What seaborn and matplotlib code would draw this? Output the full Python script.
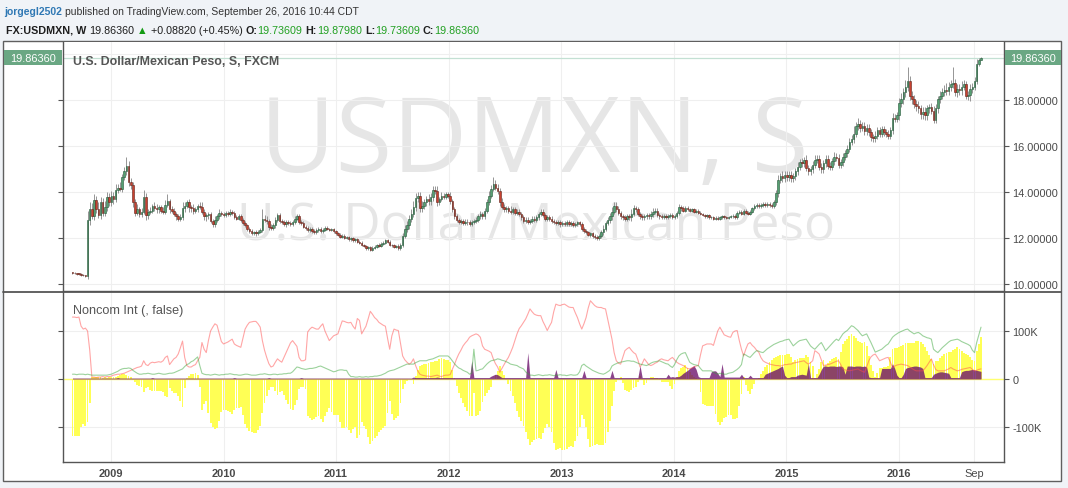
import datetime as dt
import numpy as np
import pandas as pd
import matplotlib
matplotlib.use("Agg")
import matplotlib.pyplot as plt
import matplotlib.dates as mdates
from matplotlib import font_manager
from matplotlib.patches import Rectangle
from matplotlib.lines import Line2D
import seaborn as sns

# ---------------- data (weekly) ----------------
start_week = "2008-08-29"
first_open = 10.50

close = [
    # 2008
    10.48, 10.46, 10.44, 10.43, 10.40, 10.38, 10.36, 12.78, 13.28, 12.98, 13.65, 13.25, 13.02, 13.55, 13.10, 13.35, 13.80, 13.55,
    # 2009
    13.85, 13.70, 14.10, 14.20, 14.15, 14.65, 14.90, 15.15, 14.45, 14.30,
    13.55, 13.10, 13.25, 13.05, 13.15, 13.80, 13.00, 13.15, 13.20, 13.40,
    13.30, 13.25, 13.35, 13.20, 13.15, 13.45, 13.60, 13.25, 13.20, 13.05,
    12.95, 12.85, 12.90, 13.30, 13.40, 13.55, 13.35, 13.30, 13.20, 13.25,
    13.40, 13.35, 13.15, 12.95, 13.00, 13.05, 12.75, 12.60, 12.80, 12.95,
    13.10, 13.05,
    # 2010
    13.00, 13.10, 13.05, 13.15, 13.10, 12.90, 12.85, 12.95, 12.80, 12.65,
    12.55, 12.40, 12.30, 12.22, 12.25, 12.20, 12.28, 12.35, 12.85, 12.80,
    12.75, 12.50, 12.45, 12.55, 12.80, 13.00, 12.75, 12.70, 12.60, 12.70,
    12.65, 12.60, 12.70, 12.85, 12.95, 12.70, 12.65, 12.50, 12.45, 12.35,
    12.40, 12.30, 12.25, 12.35, 12.40, 12.30, 12.35, 12.45, 12.40, 12.35,
    12.40, 12.30,
    # 2011
    12.20, 12.15, 12.05, 12.10, 12.00, 12.05, 11.95, 12.00, 11.90, 11.95,
    11.85, 11.80, 11.70, 11.65, 11.55, 11.60, 11.50, 11.58, 11.62, 11.70,
    11.65, 11.75, 11.80, 11.90, 11.85, 11.70, 11.68, 11.62, 11.65, 11.58,
    11.70, 12.10, 12.40, 12.55, 12.85, 13.05, 13.35, 13.75, 13.85, 13.30,
    13.40, 13.55, 13.70, 13.60, 13.80, 14.10, 14.05, 13.55, 13.70, 13.85,
    13.80, 13.90,
    # 2012
    13.85, 13.60, 13.25, 12.95, 12.78, 12.70, 12.75, 12.65, 12.72, 12.68,
    12.62, 12.70, 12.75, 12.80, 12.95, 13.05, 12.95, 13.20, 13.55, 13.85,
    14.15, 14.35, 14.20, 14.05, 13.55, 13.35, 13.25, 13.30, 13.20, 13.15,
    13.25, 13.10, 13.15, 13.05, 12.90, 12.75, 12.80, 12.70, 12.75, 12.85,
    12.80, 12.90, 13.05, 13.15, 13.00, 12.85, 12.90, 12.85, 12.75, 12.70,
    12.65, 12.70, 12.60,
    # 2013
    12.65, 12.62, 12.70, 12.60, 12.65, 12.55, 12.60, 12.68, 12.60, 12.40,
    12.30, 12.25, 12.15, 12.20, 12.10, 12.05, 12.00, 12.10, 12.25, 12.40,
    12.65, 12.80, 12.95, 13.15, 13.40, 13.25, 13.10, 12.95, 12.90, 12.85,
    12.95, 12.90, 13.05, 13.30, 13.25, 13.05, 12.95, 12.90, 12.95, 13.00,
    12.95, 13.05, 13.15, 13.20, 13.00, 12.95, 12.92, 12.98, 12.90, 12.95,
    13.00, 12.92,
    # 2014
    12.95, 13.10, 13.35, 13.30, 13.20, 13.30, 13.25, 13.20, 13.25, 13.15,
    13.20, 13.10, 13.05, 13.00, 12.95, 13.00, 12.90, 12.92, 12.85, 12.88,
    12.85, 12.90, 12.95, 12.90, 12.88, 12.92, 12.95, 12.98, 12.90, 13.10,
    13.15, 13.05, 13.20, 13.10, 13.05, 13.15, 13.30, 13.40, 13.45, 13.40,
    13.45, 13.50, 13.45, 13.50, 13.45, 13.40, 13.55, 13.95, 14.55, 14.70,
    14.60, 14.75,
    # 2015
    14.65, 14.75, 14.60, 14.70, 14.90, 15.10, 15.30, 15.25, 15.40, 15.05,
    14.90, 15.00, 15.20, 15.40, 15.45, 15.10, 15.00, 15.25, 15.45, 15.15,
    15.10, 15.35, 15.55, 15.50, 15.20, 15.30, 15.55, 15.70, 15.90, 16.20,
    16.30, 16.55, 16.90, 16.95, 16.80, 16.90, 16.65, 16.80, 16.60, 16.40,
    16.35, 16.45, 16.70, 16.55, 16.75, 16.60, 16.55, 16.45, 16.70, 17.25,
    17.20, 17.35,
    # 2016
    17.90, 18.05, 18.35, 18.60, 18.85, 18.20, 18.05, 17.85, 17.75, 17.65,
    17.40, 17.50, 17.35, 17.65, 17.70, 17.55, 17.15, 17.65, 18.05, 18.20,
    18.35, 18.45, 18.40, 18.60, 18.70, 18.75, 18.35, 18.50, 18.45, 18.60,
    18.70, 18.20, 18.25, 18.50, 18.60, 18.85, 19.60, 19.74, 19.8636,
]

# wick extensions above / below the body, in hundredths
hi_ext = [
    3, 3, 3, 2, 3, 3, 3, 40, 30, 25, 25, 20, 30, 25, 20, 25, 20, 15,
    20, 15, 25, 15, 25, 15, 20, 38, 20, 15, 15, 15, 25, 10, 15, 30, 15, 10, 15, 10,
    15, 20, 10, 10, 15, 20, 30, 10, 15, 10, 10, 10, 15, 25, 15, 10, 15, 10, 20, 10,
    10, 15, 20, 10, 10, 10, 10, 10, 15, 10, 15, 10,
    10, 10, 8, 10, 8, 8, 10, 8, 8, 8, 8, 8, 8, 8, 8, 10, 8, 8, 40, 15,
    15, 10, 10, 10, 10, 8, 10, 8, 8, 8, 8, 8, 10, 10, 8, 8, 8, 8, 8, 8,
    8, 8, 8, 8, 8, 8, 8, 6, 8, 6, 6, 6,
    6, 6, 6, 6, 6, 6, 6, 6, 6, 6, 6, 6, 6, 6, 6, 6, 6, 6, 6, 6,
    8, 6, 6, 6, 6, 6, 6, 6, 6, 8, 8, 10, 15, 20, 15, 20, 25, 20, 15, 15,
    20, 15, 15, 20, 15, 15, 15, 20, 10, 15, 10, 10,
    10, 15, 10, 10, 10, 10, 10, 10, 10, 10, 10, 10, 10, 10, 10, 12, 10, 10, 15, 20,
    15, 33, 20, 15, 15, 20, 12, 10, 10, 20, 10, 10, 10, 10, 10, 10, 10, 10, 10, 10,
    10, 10, 10, 10, 10, 10, 10, 10, 10, 10, 10, 10, 10,
    8, 8, 8, 8, 8, 8, 8, 8, 8, 8, 8, 8, 8, 8, 8, 8, 8, 8, 10, 15,
    10, 10, 15, 20, 15, 15, 15, 10, 10, 10, 10, 10, 20, 15, 10, 10, 10, 10, 10, 10,
    10, 15, 15, 10, 10, 10, 8, 8, 8, 8, 8, 8,
    8, 10, 15, 10, 8, 8, 8, 8, 8, 8, 8, 8, 6, 6, 6, 6, 6, 6, 6, 6,
    6, 6, 6, 6, 6, 6, 6, 6, 6, 6, 6, 6, 6, 6, 6, 6, 6, 8, 8, 8,
    8, 8, 8, 8, 8, 8, 10, 15, 20, 15, 20, 15,
    15, 15, 15, 15, 15, 20, 15, 20, 15, 20, 15, 15, 15, 20, 15, 15, 15, 15, 15, 15,
    15, 15, 20, 15, 15, 15, 15, 15, 15, 15, 20, 35, 15, 30, 20, 15, 15, 15, 15, 15,
    15, 20, 15, 15, 15, 15, 15, 15, 15, 20, 15, 15,
    20, 25, 20, 30, 60, 20, 20, 20, 15, 20, 15, 20, 20, 15, 15, 20, 20, 20, 15, 20,
    20, 20, 30, 20, 20, 70, 20, 20, 20, 25, 20, 15, 15, 20, 15, 15, 20, 10, 2,
]
lo_ext = [
    3, 3, 3, 3, 3, 3, 5, 15, 20, 15, 20, 15, 15, 20, 15, 15, 15, 15,
    15, 20, 15, 15, 10, 15, 10, 15, 20, 15, 20, 15, 10, 15, 15, 10, 20, 15, 10, 10,
    10, 15, 15, 10, 10, 10, 10, 15, 10, 10, 15, 10, 10, 10, 15, 10, 20, 15, 15, 10,
    10, 10, 10, 15, 20, 15, 10, 10, 10, 10, 10, 10,
    8, 8, 8, 10, 8, 8, 8, 8, 8, 8, 8, 8, 8, 8, 8, 10, 8, 8, 8, 10,
    15, 15, 10, 10, 10, 8, 10, 8, 8, 10, 8, 8, 8, 8, 8, 8, 8, 8, 8, 8,
    8, 8, 8, 8, 8, 8, 8, 6, 6, 6, 6, 6,
    6, 6, 6, 6, 6, 6, 6, 6, 6, 6, 6, 6, 6, 6, 6, 6, 6, 6, 6, 6,
    6, 6, 6, 6, 6, 6, 6, 6, 6, 8, 8, 10, 10, 15, 15, 15, 15, 15, 20, 15,
    15, 15, 15, 15, 15, 20, 15, 15, 10, 10, 10, 10,
    10, 10, 10, 10, 10, 10, 10, 10, 10, 10, 10, 10, 10, 10, 10, 10, 10, 10, 10, 10,
    10, 10, 10, 15, 15, 10, 10, 10, 10, 10, 10, 10, 10, 10, 10, 10, 10, 10, 10, 10,
    10, 10, 10, 10, 10, 10, 10, 10, 10, 10, 10, 10, 10,
    8, 8, 8, 8, 8, 8, 8, 8, 8, 8, 8, 8, 8, 10, 10, 10, 10, 8, 8, 10,
    10, 10, 15, 15, 10, 10, 10, 10, 10, 10, 10, 10, 15, 10, 10, 10, 10, 10, 10, 10,
    10, 10, 15, 10, 10, 10, 8, 8, 8, 8, 8, 8,
    8, 8, 8, 10, 8, 8, 8, 8, 6, 6, 6, 6, 6, 6, 6, 6, 6, 6, 6, 6,
    6, 6, 6, 6, 6, 6, 6, 6, 6, 6, 6, 6, 6, 6, 6, 6, 6, 8, 8, 8,
    8, 8, 8, 8, 8, 8, 8, 10, 15, 15, 15, 15,
    15, 15, 15, 15, 15, 15, 15, 15, 15, 15, 15, 15, 15, 15, 15, 15, 15, 15, 15, 15,
    15, 15, 15, 15, 15, 15, 15, 15, 15, 15, 15, 15, 15, 20, 20, 15, 15, 15, 15, 15,
    15, 15, 15, 15, 15, 15, 15, 15, 15, 15, 15, 15,
    20, 20, 20, 20, 20, 20, 20, 20, 20, 20, 20, 20, 20, 20, 20, 15, 15, 15, 20, 15,
    15, 15, 15, 15, 20, 15, 15, 20, 20, 20, 15, 15, 20, 30, 20, 15, 15, 10, 0,
]

# Non-commercial long (green line), short (red line) and spreading (purple area), thousands
long_k = [
    10, 10, 9, 10, 10, 10, 9, 10, 9, 8, 8, 8, 8, 8, 8, 8, 8, 9,
    10, 12, 14, 16, 19, 21, 22, 22, 23, 22, 18, 15, 12, 10, 10, 11, 11, 12, 11, 10,
    10, 11, 12, 11, 10, 10, 11, 12, 12, 13, 15, 17, 19, 21, 26, 30, 32, 36, 38, 42,
    46, 28, 12, 10, 9, 9, 8, 9, 10, 9, 8, 9,
    9, 10, 10, 11, 10, 9, 9, 8, 8, 9, 10, 10, 9, 8, 8, 8, 9, 10, 10, 11,
    10, 9, 9, 10, 10, 9, 10, 10, 11, 11, 12, 12, 15, 20, 25, 24, 22, 21, 20, 21,
    22, 22, 23, 24, 26, 27, 25, 23, 21, 19, 17, 15,
    16, 18, 19, 19, 18, 18, 10, 5, 5, 4, 4, 5, 4, 4, 5, 4, 5, 5, 6, 6,
    7, 8, 10, 12, 15, 17, 18, 19, 21, 23, 25, 27, 29, 31, 31, 31, 31, 34, 36, 38,
    38, 38, 38, 40, 41, 42, 44, 46, 48, 48, 48, 48,
    48, 44, 38, 32, 27, 23, 21, 18, 16, 14, 10, 12, 62, 17, 18, 20, 21, 26, 31, 35,
    38, 39, 40, 42, 41, 39, 38, 36, 34, 31, 30, 29, 28, 25, 23, 21, 15, 11, 8, 8,
    7, 8, 9, 8, 7, 8, 8, 9, 8, 7, 8, 8, 9,
    8, 8, 7, 8, 9, 8, 8, 9, 15, 28, 31, 27, 24, 21, 18, 16, 14, 12, 11, 10,
    12, 15, 18, 27, 30, 32, 34, 35, 36, 37, 38, 38, 37, 37, 35, 33, 31, 30, 29, 28,
    30, 33, 35, 36, 37, 38, 36, 34, 32, 31, 27, 24,
    30, 40, 48, 52, 54, 55, 45, 35, 32, 30, 29, 28, 22, 17, 17, 17, 17, 17, 14, 12,
    10, 12, 11, 10, 10, 12, 13, 14, 17, 20, 24, 30, 52, 50, 47, 45, 50, 55, 59, 58,
    56, 55, 59, 63, 66, 69, 72, 74, 76, 78, 79, 81,
    82, 83, 76, 69, 73, 77, 80, 81, 82, 83, 76, 69, 65, 62, 67, 72, 76, 68, 59, 64,
    69, 74, 79, 83, 80, 87, 94, 98, 101, 106, 111, 109, 105, 101, 95, 90, 92, 94, 85, 76,
    66, 56, 58, 60, 62, 66, 70, 73, 80, 87, 91, 94,
    97, 99, 101, 103, 104, 100, 97, 94, 96, 97, 94, 90, 88, 86, 85, 83, 62, 58, 55, 60,
    65, 69, 73, 77, 80, 81, 82, 83, 81, 78, 76, 74, 72, 69, 60, 55, 76, 92, 108,
]
short_k = [
    129, 129, 128, 129, 110, 104, 106, 100, 60, 4, 4, 3, 4, 4, 5, 4, 5, 5,
    6, 8, 9, 10, 10, 11, 12, 14, 16, 18, 20, 22, 24, 25, 27, 38, 30, 28, 33, 35,
    34, 35, 36, 35, 38, 45, 48, 30, 36, 42, 45, 52, 65, 79, 45, 28, 25, 25, 28, 30,
    38, 45, 76, 62, 55, 80, 100, 108, 115, 112, 95, 78,
    73, 75, 77, 80, 83, 73, 70, 68, 66, 85, 104, 112, 118, 119, 120, 120, 115, 108, 80, 60,
    45, 32, 25, 27, 35, 42, 38, 35, 45, 55, 65, 75, 80, 74, 68, 45, 38, 38, 40, 98,
    104, 108, 106, 104, 104, 110, 115, 100, 90, 80, 85, 90,
    92, 94, 108, 121, 120, 118, 117, 118, 110, 104, 126, 122, 94, 102, 110, 125, 141, 135, 128, 124,
    118, 115, 112, 110, 85, 62, 90, 104, 102, 101, 75, 48, 40, 35, 31, 34, 42, 28, 17, 10,
    8, 7, 6, 6, 5, 6, 7, 8, 6, 5, 7, 8,
    8, 9, 20, 30, 42, 52, 60, 69, 75, 80, 87, 90, 92, 94, 92, 87, 69, 62, 60, 58,
    55, 42, 32, 25, 14, 22, 30, 38, 45, 55, 66, 80, 94, 105, 111, 118, 125, 135, 146, 140,
    135, 133, 132, 132, 120, 111, 101, 110, 118, 140, 156, 154, 153,
    155, 156, 153, 150, 149, 149, 138, 128, 115, 104, 115, 128, 148, 163, 158, 153, 150, 149, 149, 147,
    146, 125, 105, 83, 55, 38, 33, 31, 45, 59, 63, 66, 60, 55, 52, 40, 25, 32, 42, 36,
    30, 28, 30, 33, 35, 40, 42, 40, 39, 38, 42, 45,
    40, 35, 32, 30, 28, 25, 22, 21, 23, 25, 27, 28, 50, 69, 71, 73, 73, 73, 70, 85,
    100, 108, 100, 92, 90, 88, 87, 97, 100, 101, 80, 62, 48, 62, 73, 76, 70, 66, 60, 56,
    45, 38, 35, 33, 31, 30, 29, 28, 28, 27, 28, 30,
    30, 31, 31, 33, 34, 35, 36, 37, 38, 34, 31, 34, 38, 59, 56, 52, 40, 28, 29, 30,
    31, 33, 35, 37, 38, 30, 21, 19, 18, 17, 18, 19, 20, 21, 18, 16, 14, 25, 38, 46,
    50, 52, 45, 38, 40, 42, 44, 45, 35, 24, 27, 29,
    30, 31, 30, 29, 28, 25, 22, 19, 17, 17, 17, 17, 22, 28, 35, 42, 30, 20, 17, 17,
    17, 17, 19, 21, 24, 21, 19, 17, 18, 20, 21, 22, 23, 24, 20, 17, 18, 20, 21,
]
spread_k = [
    2, 2, 2, 2, 2, 2, 2, 2, 2, 2, 2, 2, 2, 2, 2, 2, 2, 2,
    2, 2, 2, 3, 2, 2, 2, 2, 2, 2, 2, 2, 2, 2, 2, 2, 2, 2, 2, 3,
    2, 2, 2, 2, 2, 2, 2, 2, 2, 2, 2, 2, 2, 2, 2, 2, 2, 2, 2, 2,
    2, 2, 2, 2, 2, 2, 2, 2, 2, 2, 2, 2,
    2, 2, 2, 2, 2, 3, 2, 2, 2, 2, 2, 2, 2, 2, 2, 2, 2, 2, 2, 2,
    2, 3, 2, 2, 2, 2, 2, 2, 2, 2, 2, 2, 2, 2, 2, 2, 3, 2, 2, 2,
    2, 2, 2, 2, 2, 2, 2, 2, 2, 2, 2, 2,
    2, 2, 2, 2, 2, 2, 2, 2, 2, 2, 2, 2, 2, 2, 2, 2, 2, 2, 2, 2,
    2, 2, 2, 2, 2, 2, 2, 2, 2, 2, 2, 2, 2, 2, 2, 2, 4, 3, 3, 3,
    3, 3, 3, 3, 3, 3, 3, 4, 3, 3, 3, 3,
    3, 3, 3, 3, 3, 3, 3, 3, 3, 3, 3, 38, 3, 3, 3, 3, 3, 3, 3, 3,
    6, 8, 10, 9, 6, 3, 3, 3, 3, 3, 3, 3, 3, 3, 3, 3, 3, 55, 3, 3,
    3, 3, 3, 3, 3, 3, 3, 3, 3, 3, 20, 3, 3,
    3, 3, 3, 3, 3, 3, 3, 3, 3, 3, 18, 3, 3, 3, 3, 3, 3, 3, 3, 3,
    3, 3, 3, 18, 3, 3, 3, 3, 3, 3, 3, 3, 3, 3, 3, 3, 28, 3, 3, 3,
    3, 3, 3, 3, 3, 3, 3, 3, 3, 10, 4, 5,
    4, 5, 5, 8, 12, 15, 18, 22, 25, 28, 20, 5, 3, 3, 3, 3, 3, 15, 17, 17,
    12, 5, 32, 4, 4, 4, 4, 4, 4, 4, 4, 10, 3, 3, 3, 8, 3, 3, 3, 3,
    3, 3, 10, 12, 14, 16, 18, 20, 22, 25, 27, 8,
    3, 3, 5, 5, 5, 8, 9, 10, 9, 8, 32, 3, 3, 3, 3, 10, 20, 27, 27, 26,
    27, 27, 27, 26, 27, 27, 25, 10, 27, 27, 27, 26, 27, 27, 27, 26, 27, 25, 4, 3,
    3, 3, 3, 3, 22, 22, 22, 22, 22, 32, 22, 8,
    3, 3, 10, 22, 24, 25, 26, 27, 27, 26, 25, 22, 3, 3, 3, 3, 10, 12, 14, 15,
    15, 14, 13, 12, 3, 3, 3, 3, 3, 15, 17, 18, 18, 19, 20, 19, 18, 17, 16,
]

price_ticks = [10, 12, 14, 16, 18]
price_tick_labels = ["10.00000", "12.00000", "14.00000", "16.00000", "18.00000"]
cot_ticks = [-100, 0, 100]
cot_tick_labels = ["-100K", "0", "100K"]
x_tick_dates = ["2009-01-01", "2010-01-01", "2011-01-01", "2012-01-01", "2013-01-01",
                "2014-01-01", "2015-01-01", "2016-01-01", "2016-09-01"]
x_tick_labels = ["2009", "2010", "2011", "2012", "2013", "2014", "2015", "2016", "Sep"]
last_price_label = "19.86360"

n = len(close)
assert all(len(a) == n for a in (hi_ext, lo_ext, long_k, short_k, spread_k)), \
    [len(a) for a in (close, hi_ext, lo_ext, long_k, short_k, spread_k)]

# ---------------- figure ----------------
sns.set_style("white")
SANS = ["Liberation Sans", "DejaVu Sans"]
WMFONT = ["Open Sans", "DejaVu Sans"]
try:
    font_manager.findfont(font_manager.FontProperties(family="Liberation Sans Narrow"),
                          fallback_to_default=False)
    HEADFONT = ["Liberation Sans Narrow", "DejaVu Sans"]
except Exception:
    HEADFONT = SANS
plt.rcParams["font.family"] = SANS

W, H = 1068, 489
fig = plt.figure(figsize=(W / 100, H / 100), dpi=100)
fig.patch.set_facecolor("#f0f3f7")


def fx(x):
    return x / W


def fy(y):
    return 1 - y / H


fig.add_artist(Rectangle((fx(3), fy(482)), fx(1061) - fx(3), fy(42) - fy(482),
                         transform=fig.transFigure, facecolor="white",
                         edgecolor="#5f5f5f", lw=1.0, zorder=-5))

ax1 = fig.add_axes([fx(63), fy(292), fx(1004) - fx(63), fy(43) - fy(292)])
ax2 = fig.add_axes([fx(63), fy(463), fx(1004) - fx(63), fy(293) - fy(463)])

d09 = mdates.date2num(dt.datetime(2009, 1, 1))
d16 = mdates.date2num(dt.datetime(2016, 1, 1))
dpp = (d16 - d09) / (899 - 111)
xlim = (d09 - (111 - 63) * dpp, d09 + (1004 - 111) * dpp)

weeks = pd.date_range(start_week, periods=n, freq="7D")
xd = mdates.date2num(weeks.to_pydatetime())

# ---- price candles ----
c = np.array(close)
o = np.r_[first_open, c[:-1]]
hi = np.maximum(o, c) + np.array(hi_ext) / 100.0
lo = np.minimum(o, c) - np.array(lo_ext) / 100.0
up = c >= o
ax1.vlines(xd, lo, hi, colors="#858585", lw=0.6, zorder=2)
bh = np.maximum(np.abs(c - o), 0.03)
bb = np.minimum(o, c)
ax1.bar(xd[up], bh[up], bottom=bb[up], width=5.0, color="#55a072",
        edgecolor="#245638", lw=0.4, zorder=3)
ax1.bar(xd[~up], bh[~up], bottom=bb[~up], width=5.0, color="#c9412f",
        edgecolor="#5e2119", lw=0.4, zorder=3)
ax1.axhline(c[-1], color="#c3e0d3", lw=0.9, zorder=1.5)
ax1.axhline(20, color="#efefef", lw=0.8, zorder=0.2)
ax1.set_ylim(10 - (292 - 285) / 22.96, 10 + (285 - 43) / 22.96)
ax1.set_yticks(price_ticks)
ax1.set_yticklabels(price_tick_labels)

# ---- COT panel ----
L = np.array(long_k, dtype=float)
S = np.array(short_k, dtype=float)
net = L - S
sp = np.array(spread_k, dtype=float)
ax2.axhline(0, color="#ffff70", lw=1.0, zorder=1)
ax2.bar(xd, net, width=6.0, color="#ffff55", lw=0, zorder=2, antialiased=False)
ax2.fill_between(xd, 0, sp, color="#6b0f6b", alpha=0.78, lw=0, zorder=3)
sns.lineplot(x=xd, y=S, ax=ax2, color="#ff4d4d", lw=0.8, alpha=0.5, zorder=4)
sns.lineplot(x=xd, y=L, ax=ax2, color="#3aa63a", lw=0.8, alpha=0.5, zorder=4)
ax2.set_ylim(-(463 - 380) / 0.48, (380 - 293) / 0.48)
ax2.set_yticks(cot_ticks)
ax2.set_yticklabels(cot_tick_labels)

xt = [mdates.date2num(dt.datetime.strptime(s, "%Y-%m-%d")) for s in x_tick_dates]
for ax in (ax1, ax2):
    ax.set_xlim(*xlim)
    ax.set_facecolor("white")
    ax.set_xlabel("")
    ax.set_ylabel("")
    ax.grid(True, color="#efefef", lw=0.8)
    ax.set_axisbelow(True)
    for s in ax.spines.values():
        s.set_color("#555555")
        s.set_linewidth(1.0)
    ax.spines["top"].set_visible(False)
    ax.set_xticks(xt)
    ax.tick_params(axis="x", length=0, pad=4)
    ax.tick_params(axis="y", left=True, right=True, labelleft=False, labelright=True,
                   length=3.5, width=0.8, color="#555555", labelsize=7.9,
                   labelcolor="#4a4a4a", pad=2.5)

ax1.tick_params(axis="x", labelbottom=False)
ax2.set_xticklabels(x_tick_labels)
for lab in ax2.get_xticklabels():
    lab.set_fontsize(7.9)
    lab.set_color("#4a4a4a")
    lab.set_fontweight("normal" if lab.get_text() == "Sep" else "bold")

fig.add_artist(Line2D([fx(3), fx(1061)], [fy(292.5), fy(292.5)], transform=fig.transFigure,
                      color="#555555", lw=1.3, zorder=5))

# ---- last price boxes ----
yp = H - ax1.transData.transform((xd[-1], c[-1]))[1]
for x0, x1 in ((4, 62), (1005, 1061)):
    fig.add_artist(Rectangle((fx(x0), fy(yp + 7.5)), fx(x1) - fx(x0), 15 / H,
                             transform=fig.transFigure, facecolor="#6aa783",
                             edgecolor="none", zorder=6))
    fig.text(fx((x0 + x1) / 2), fy(yp), last_price_label, color="white",
             fontsize=7.9, ha="center", va="center", zorder=7)

# ---- text helpers ----
renderer = fig.canvas.get_renderer()


def tw(s, fs, weight, family):
    t = fig.text(0, 0, s, fontsize=fs, fontweight=weight, family=family)
    w = t.get_window_extent(renderer).width
    t.remove()
    return w


def text_line(parts, x0, x1, ybase, family=SANS, fs0=10.0, target=None, zorder=3):
    def total(fs):
        x = 0.0
        for s, col, wt, spc in parts:
            if spc:
                x += tw("a a", fs, wt, family) - tw("aa", fs, wt, family)
            x += tw(s, fs, wt, family)
        return x

    fs = fs0 * (x1 - x0) / total(fs0)
    x = x0
    for s, col, wt, spc in parts:
        if spc:
            x += tw("a a", fs, wt, family) - tw("aa", fs, wt, family)
        (target or fig).text(fx(x), fy(ybase), s, fontsize=fs, fontweight=wt, color=col,
                             family=family, ha="left", va="baseline",
                             transform=fig.transFigure, zorder=zorder)
        x += tw(s, fs, wt, family)


GREEN = "#22a022"
text_line([("jorgegl2502", "#2f78b4", "bold", False),
           ("published on TradingView.com, September 26, 2016 10:44 CDT", "#333333", "normal", True)],
          4, 358, 15, family=HEADFONT)
text_line([("FX:USDMXN, W", "#1e1e1e", "bold", False),
           ("19.86360", "#1e1e1e", "normal", True),
           ("\u25B2", "#139a13", "normal", True),
           ("+0.08820 (+0.45%)", "#1e1e1e", "normal", True),
           ("O:", "#1e1e1e", "bold", True), ("19.73609", GREEN, "normal", False),
           ("H:", "#1e1e1e", "bold", True), ("19.87980", GREEN, "normal", False),
           ("L:", "#1e1e1e", "bold", True), ("19.73609", GREEN, "normal", False),
           ("C:", "#1e1e1e", "bold", True), ("19.86360", GREEN, "normal", False)],
          6, 476, 33.5, family=HEADFONT)
text_line([("U.S. Dollar/Mexican Peso, S, FXCM", "#555555", "bold", False)], 73, 279, 65,
          target=ax1, zorder=8)
text_line([("Noncom Int (, false)", "#555555", "normal", False)], 73, 184, 314,
          target=ax2, zorder=8)

# watermarks (behind candles)
text_line([("USDMXN, S", "#e6e6e6", "normal", False)], 260, 810, 172, family=WMFONT,
          target=ax1, zorder=0.5)
text_line([("U.S. Dollar/Mexican Peso", "#e6e6e6", "normal", False)], 237, 835, 240,
          family=WMFONT, target=ax1, zorder=0.5)

fig.savefig("out.png", dpi=100, facecolor=fig.get_facecolor())
